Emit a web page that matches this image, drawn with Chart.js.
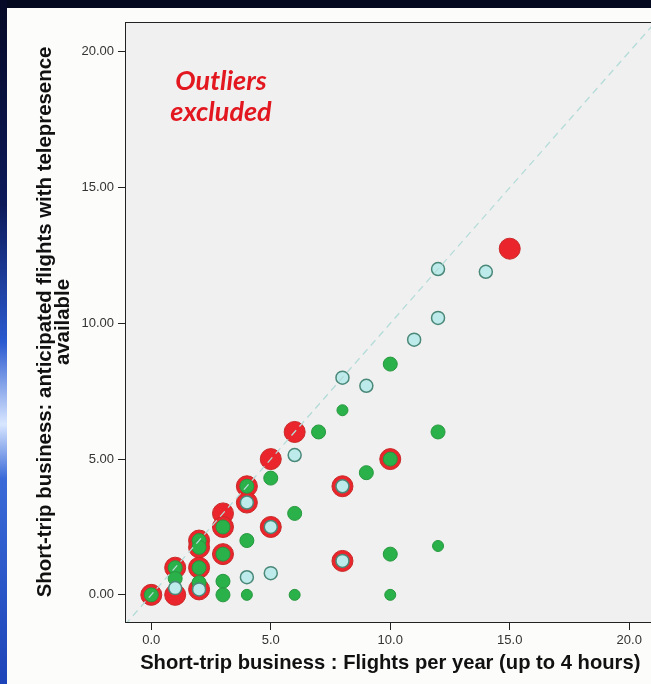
<!DOCTYPE html>
<html>
<head>
<meta charset="utf-8">
<script src="https://cdn.jsdelivr.net/npm/chart.js@4.4.1/dist/chart.umd.min.js"></script>
<style>
  html, body { margin: 0; padding: 0; width: 651px; height: 684px; overflow: hidden; background: #050920; }
  #strip { position: absolute; left: 0; top: 0; width: 7px; height: 684px;
           background: linear-gradient(to bottom, #060a26 0%, #0d1a5a 30%, #2a5ad0 50%, #d8e6ff 62%, #3a6ad8 70%, #1d44b8 100%); }
  #panel { position: absolute; left: 7px; top: 8px; width: 660px; height: 676px; background: #fcfcfa; }
  #panel canvas { position: absolute; left: 0; top: 0; }
</style>
</head>
<body>
<div id="strip"></div>
<div id="panel"><canvas id="scatterChart" width="660" height="676"></canvas></div>
<script>
// Axis ticks
const xTickValues = [0, 5, 10, 15, 20];
const xTickLabels = ['0.0', '5.0', '10.0', '15.0', '20.0'];
const yTickValues = [0, 5, 10, 15, 20];
const yTickLabels = ['0.00', '5.00', '10.00', '15.00', '20.00'];

// Red group (big markers, drawn underneath)
const redX = [0, 1, 1, 2, 2, 2, 2, 3, 3, 3, 4, 4, 5, 5, 6, 8, 8, 10, 15];
const redY = [0, 1, 0, 2, 1.75, 1, 0.2, 3, 2.5, 1.5, 4, 3.4, 5, 2.5, 6, 4, 1.25, 5, 12.75];

// Green group
const greenX = [0, 1, 1, 2, 2, 2, 2, 3, 3, 3, 3, 4, 4, 5, 6, 7, 9, 10, 10, 10, 12];
const greenY = [0, 1, 0.6, 2, 1.75, 1, 0.45, 2.5, 1.5, 0.5, 0, 4, 2, 4.3, 3, 6, 4.5, 8.5, 5, 1.5, 6];

// Green group, smaller markers
const greenSmallX = [4, 6, 8, 10, 12];
const greenSmallY = [0, 0, 6.8, 0, 1.8];

// Light cyan group
const cyanX = [1, 2, 4, 4, 5, 5, 6, 8, 8, 8, 9, 11, 12, 12, 14];
const cyanY = [0.25, 0.2, 3.4, 0.65, 2.5, 0.8, 5.15, 8, 4, 1.25, 7.7, 9.4, 10.2, 12, 11.9];

// Reference line y = x
const refX = [-1.1, 21.1];
const refY = [-1.1, 21.1];

const toPoints = (xs, ys) => xs.map((x, i) => ({ x: x, y: ys[i] }));

// plot background, frame and the note
const plotFrame = {
    id: 'plotFrame',
    beforeDraw(chart) {
        const { ctx, chartArea: a } = chart;
        ctx.save();
        ctx.fillStyle = '#f0f0f0';
        ctx.fillRect(a.left, a.top, a.right - a.left, a.bottom - a.top);
        ctx.restore();
    },
    afterDraw(chart) {
        const { ctx, chartArea: a } = chart;
        ctx.save();
        ctx.strokeStyle = '#222';
        ctx.lineWidth = 1;
        ctx.strokeRect(a.left + 0.5, a.top + 0.5, a.right - a.left, a.bottom - a.top);
        ctx.fillStyle = '#e3171f';
        ctx.font = 'italic bold 27px Lato';
        ctx.textAlign = 'center';
        ctx.fillText('Outliers', a.left + 96, a.top + 68);
        ctx.fillText('excluded', a.left + 96, a.top + 99);
        ctx.restore();
    }
};

Chart.defaults.font.family = "'Liberation Sans', Arial, sans-serif";

const ctx = document.getElementById('scatterChart').getContext('2d');
new Chart(ctx, {
    type: 'scatter',
    data: {
        datasets: [
            {
                type: 'line',
                data: toPoints(refX, refY),
                borderColor: '#b4dcd8',
                borderWidth: 1.3,
                borderDash: [7, 5],
                pointRadius: 0,
                fill: false,
                order: 0
            },
            {
                data: toPoints(cyanX, cyanY),
                backgroundColor: '#bdeaea',
                borderColor: '#4a8878',
                borderWidth: 1.5,
                pointRadius: 6.5,
                order: 1
            },
            {
                data: toPoints(greenX, greenY),
                backgroundColor: '#2bb14a',
                borderColor: '#27983f',
                borderWidth: 1,
                pointRadius: 7,
                order: 2
            },
            {
                data: toPoints(greenSmallX, greenSmallY),
                backgroundColor: '#2bb14a',
                borderColor: '#27983f',
                borderWidth: 1,
                pointRadius: 5.5,
                order: 2
            },
            {
                data: toPoints(redX, redY),
                backgroundColor: '#ea252c',
                borderColor: '#c92a28',
                borderWidth: 1,
                pointRadius: 10.5,
                order: 3
            }
        ]
    },
    options: {
        responsive: false,
        animation: false,
        layout: { padding: { top: 14, right: 10, left: 0, bottom: 0 } },
        plugins: { legend: { display: false }, tooltip: { enabled: false } },
        scales: {
            x: {
                type: 'linear',
                min: -1.1,
                max: 21.1,
                afterBuildTicks: scale => { scale.ticks = xTickValues.map(v => ({ value: v })); },
                afterFit: scale => { scale.height = 62; },
                border: { display: false },
                grid: { drawOnChartArea: false, drawTicks: true, tickLength: 8, tickColor: '#222', tickWidth: 1 },
                ticks: {
                    color: '#333',
                    font: { size: 13 },
                    padding: 3,
                    maxRotation: 0,
                    callback: value => xTickLabels[xTickValues.indexOf(value)]
                },
                title: {
                    display: true,
                    text: 'Short-trip business : Flights per year (up to 4 hours)',
                    color: '#111',
                    font: { size: 20.2, weight: 'bold' },
                    padding: { top: 0, bottom: 8 }
                }
            },
            y: {
                type: 'linear',
                min: -1,
                max: 21.1,
                afterBuildTicks: scale => { scale.ticks = yTickValues.map(v => ({ value: v })); },
                afterFit: scale => { scale.width = 118; },
                border: { display: false },
                grid: { drawOnChartArea: false, drawTicks: true, tickLength: 7, tickColor: '#222', tickWidth: 1 },
                ticks: {
                    color: '#333',
                    font: { size: 13 },
                    padding: 4,
                    callback: value => yTickLabels[yTickValues.indexOf(value)]
                },
                title: {
                    display: true,
                    text: ['Short-trip business: anticipated flights with telepresence', 'available'],
                    color: '#111',
                    font: { size: 20.4, weight: 'bold', lineHeight: 0.88 },
                    padding: { top: 29, bottom: 0 }
                }
            }
        }
    },
    plugins: [plotFrame]
});
</script>
</body>
</html>
